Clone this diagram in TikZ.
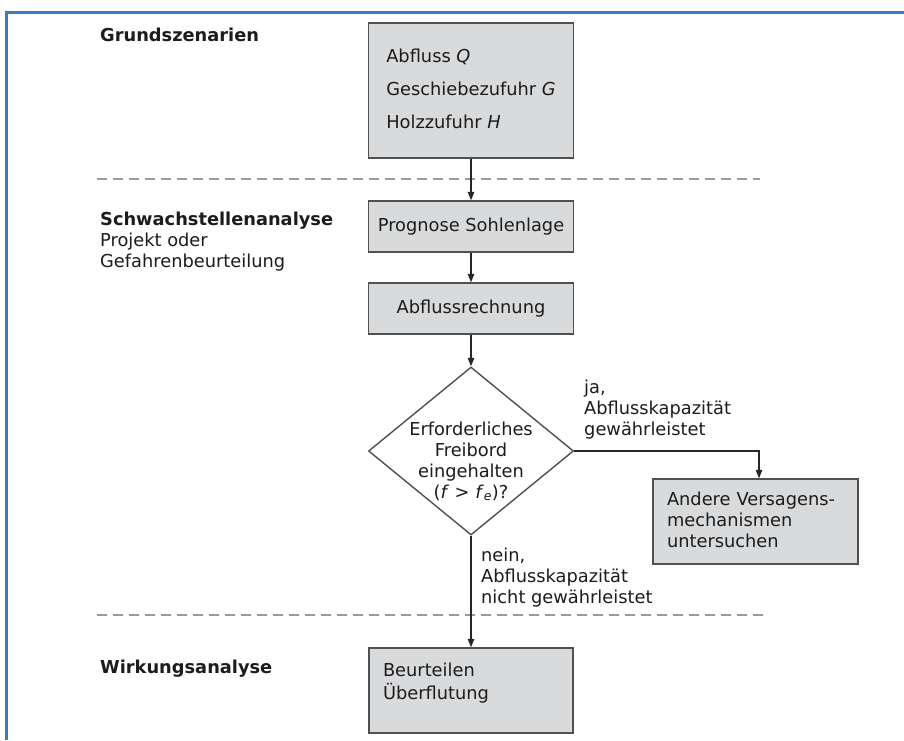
\documentclass[tikz,border=0pt]{standalone}
\usepackage{fontspec}
\setmainfont{DejaVu Sans}
\usetikzlibrary{shapes.geometric,arrows.meta}
\definecolor{boxfill}{HTML}{D9DADC}
\definecolor{boxline}{HTML}{505050}
\definecolor{frameblue}{HTML}{3A7BBF}
\definecolor{dashgray}{HTML}{9A9A9A}
\definecolor{txt}{HTML}{1C1C1C}
\newcommand\ls{\rule[-5.65pt]{0pt}{21pt}}
\newcommand\lstop{\rule[-11.65pt]{0pt}{33pt}}
\begin{document}
\begin{tikzpicture}[x=1pt,y=-1pt,
  every node/.style={text=txt, font=\fontsize{17.8}{21}\selectfont, inner sep=0pt},
  box/.style={draw=boxline, fill=boxfill, line width=1.4pt, align=center},
  lbox/.style={box, align=left},
  head/.style={font=\fontsize{17.8}{21}\selectfont\bfseries},
  conn/.style={draw=black!85, line width=1.3pt, -{Triangle[length=8.5pt,width=6.5pt]}},
  sepline/.style={draw=dashgray, line width=1.8pt, dash pattern=on 10pt off 6pt},
  lab/.style={anchor=west, align=left}]
\useasboundingbox (0,0) rectangle (904,740);
\fill[white] (0,0) rectangle (904,740);
% frame
\coordinate (f1) at (904,12);
\coordinate (f2) at (6,12);
\coordinate (f3) at (6,740);
\draw[frameblue, line width=3pt] (f1) -- (f2) -- (f3);
% separators
\coordinate (s1a) at (97,179);
\coordinate (s1b) at (760,179);
\coordinate (s2a) at (97,615);
\coordinate (s2b) at (764,615);
\draw[sepline] (s1a) -- (s1b);
\draw[sepline] (s2a) -- (s2b);
% left headings
\node[head, lab] (l1) at (100,37) {\ls Grundszenarien};
\node[lab] (l2) at (100,242) {\ls\textbf{Schwachstellenanalyse}\\\ls Projekt oder\\\ls Gefahrenbeurteilung};
\node[head, lab] (l3) at (100,669) {\ls Wirkungsanalyse};
% boxes
\node[box, align=left, minimum width=205pt, minimum height=135pt, font=\fontsize{17.8}{33}\selectfont] (scen) at (471,90.5)
  {\lstop Abfluss \textit{Q}\\\lstop Geschiebezufuhr \textit{G}\\\lstop Holzzufuhr \textit{H}};
\node[box, minimum width=205pt, minimum height=51pt] (prog) at (471,226.5) {\ls Prognose Sohlenlage};
\node[box, minimum width=205pt, minimum height=51pt] (abfl) at (471,308.5) {\ls Abflussrechnung};
\node[draw=boxline, fill=white, line width=1.4pt, diamond, minimum width=205pt, minimum height=168pt] (dec) at (471,451) {};
\node[align=center] (dect) at (471,462) {\ls Erforderliches\\\ls Freibord\\\ls eingehalten\\\ls (\textit{f} > \textit{f}\textsubscript{\textit{e}})?};
\node[lbox, text width=177pt, inner xsep=14pt, minimum height=85pt] (other) at (755.5,521.5)
  {\ls Andere Versagens-\\\ls mechanismen\\\ls untersuchen};
\node[lbox, text width=176pt, inner xsep=14pt, minimum height=85pt] (eval) at (471,690.5)
  {\ls Beurteilen\\\ls Überflutung\rule[-19.65pt]{0pt}{1pt}};
% branch labels
\node[lab] (ja) at (584,410) {\ls ja,\\\ls Abflusskapazität\\\ls gewährleistet};
\node[lab] (nein) at (481,578) {\ls nein,\\\ls Abflusskapazität\\\ls nicht gewährleistet};
% connectors
\draw[conn] (scen) -- (prog);
\draw[conn] (prog) -- (abfl);
\draw[conn] (abfl) -- (dec);
\draw[conn] (dec.east) -| ([xshift=3.5pt]other.north);
\draw[conn] (dec) -- (eval);
\end{tikzpicture}
\end{document}
